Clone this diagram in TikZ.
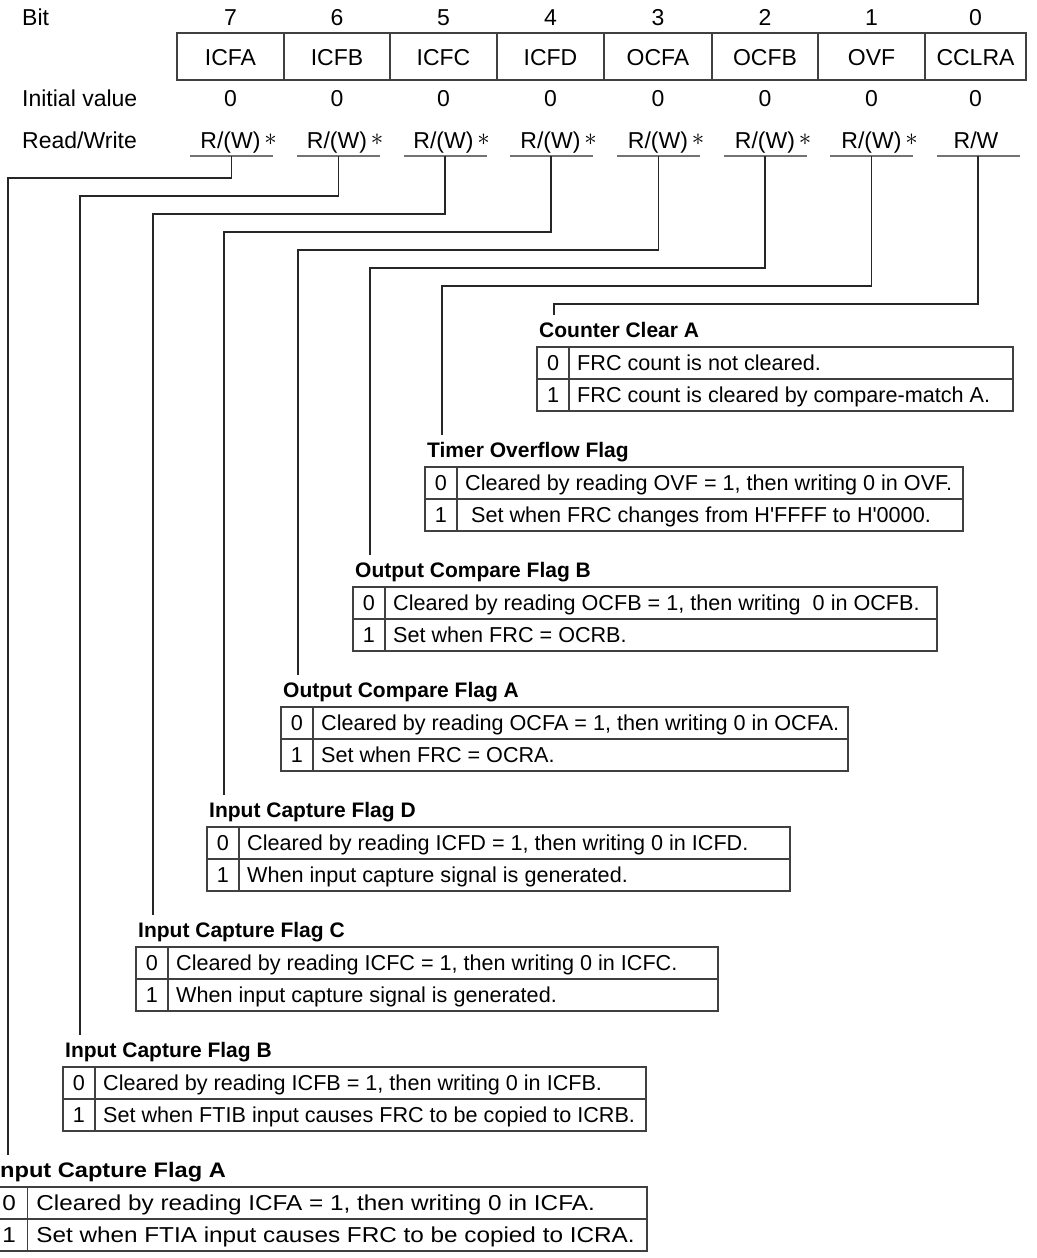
\documentclass[tikz,border=0pt]{standalone}
\usepackage{fontspec}
\setmainfont{Liberation Sans}
\newfontfamily\arialf{Liberation Sans}
% #1 id, #2 left, #3 title centre y, #4 right, #5 title, #6 row 0, #7 row 1
\newcommand\FlagTab[7]{%
  \node[ttl, anchor=base west] (t#1) at ({#2+2},{#3+7.5}) {#5};
  \draw[frame] (#2,{#3+17}) rectangle (#4,{#3+81});
  \draw[frame] (#2,{#3+49}) -- (#4,{#3+49});
  \draw[frame] ({#2+32},{#3+17}) -- ({#2+32},{#3+81});
  \node[cell, anchor=base] (na#1) at ({#2+16},{#3+40.7}) {0};
  \node[cell, anchor=base west] (da#1) at ({#2+40},{#3+40.7}) {#6};
  \node[cell, anchor=base] (nb#1) at ({#2+16},{#3+72.7}) {1};
  \node[cell, anchor=base west] (db#1) at ({#2+40},{#3+72.7}) {#7};
}
\begin{document}
\begin{tikzpicture}[x=1pt,y=-1pt,
  hdr/.style={font=\arialf\fontsize{23}{27}\selectfont, inner sep=0pt},
  ttl/.style={font=\arialf\fontsize{21}{25}\selectfont\bfseries, inner sep=0pt},
  cell/.style={font=\arialf\fontsize{21.6}{25}\selectfont, inner sep=0pt},
  ln/.style={line width=1.2pt, draw=black!85},
  ul/.style={line width=1.2pt, draw=black!55},
  frame/.style={line width=1.2pt, draw=black!75}]
\useasboundingbox (0,0) rectangle (1036,1258);
\clip (0,0) rectangle (1036,1258);
\fill[white] (0,0) rectangle (1036,1258);

% header labels
\node[hdr, anchor=base west] (bitlbl) at (22,25) {Bit};
\node[hdr, anchor=base west] (initlbl) at (22,106) {Initial value};
\node[hdr, anchor=base west] (rwlbl) at (22,148) {Read/Write};

% register bits
\foreach \b/\l/\r/\n in {7/177/284/ICFA,6/284/390/ICFB,5/390/497/ICFC,4/497/604/ICFD,3/604/712/OCFA,2/712/818/OCFB,1/818/925/OVF,0/925/1026/CCLRA}{
  \pgfmathsetmacro\cx{(\l+\r)/2}
  \node[hdr, anchor=base] (bit\b) at (\cx,25) {\b};
  \draw[frame] (\l,33) rectangle (\r,80);
  \node[hdr, anchor=base] (reg\b) at (\cx,65) {\n};
  \node[hdr, anchor=base] (ini\b) at (\cx,106) {0};
}

% read/write labels
\foreach \b/\cx in {7/230.5,6/337,5/443.5,4/550.5,3/658,2/765,1/871.5}{
  \node[hdr, anchor=base] (rw\b) at (\cx,148) {R/(W)\rlap{\,\raisebox{3pt}{\fontsize{23}{23}\selectfont$\ast$}}};
}
\node[hdr, anchor=base] (rw0) at (976,148) {R/W};

% underlines and connectors
\foreach \b/\cx/\xv/\yh/\T in {7/231.5/8/178/1170,6/338.5/80/196/1050,5/445/153/214/930,4/551/224/232/810,3/658.5/298/250/690,2/765/370/268/570,1/871.5/442/286/450,0/978/554/304/330}{
  \draw[ul] ({\cx-41.5},156) -- ({\cx+41.5},156);
  \coordinate (u\b) at (\cx,156);
  \coordinate (k\b) at (\xv,\yh);
  \coordinate (e\b) at (\xv,{\T-15});
  \draw[ln] (u\b) |- (k\b) -- (e\b);
}

% flag tables
\FlagTab{0}{537}{330}{1013}{Counter Clear A}{FRC count is not cleared.}{FRC count is cleared by compare-match A.}
\FlagTab{1}{425}{450}{963}{Timer Overflow Flag}{Cleared by reading OVF = 1, then writing 0 in OVF.}{\ Set when FRC changes from H'FFFF to H'0000.}
\FlagTab{2}{353}{570}{937}{Output Compare Flag B}{Cleared by reading OCFB = 1, then writing\ \ 0 in OCFB.}{Set when FRC = OCRB.}
\FlagTab{3}{281}{690}{848}{Output Compare Flag A}{Cleared by reading OCFA = 1, then writing 0 in OCFA.}{Set when FRC = OCRA.}
\FlagTab{4}{207}{810}{790}{Input Capture Flag D}{Cleared by reading ICFD = 1, then writing 0 in ICFD.}{When input capture signal is generated.}
\FlagTab{5}{136}{930}{718}{Input Capture Flag C}{Cleared by reading ICFC = 1, then writing 0 in ICFC.}{When input capture signal is generated.}
\FlagTab{6}{63}{1050}{646}{Input Capture Flag B}{Cleared by reading ICFB = 1, then writing 0 in ICFB.}{Set when FTIB input causes FRC to be copied to ICRB.}
\begin{scope}[xshift=-80.9pt, xscale=1.125, transform shape]
\FlagTab{7}{64}{1170}{647}{Input Capture Flag A}{Cleared by reading ICFA = 1, then writing 0 in ICFA.}{Set when FTIA input causes FRC to be copied to ICRA.}
\end{scope}
\end{tikzpicture}
\end{document}
